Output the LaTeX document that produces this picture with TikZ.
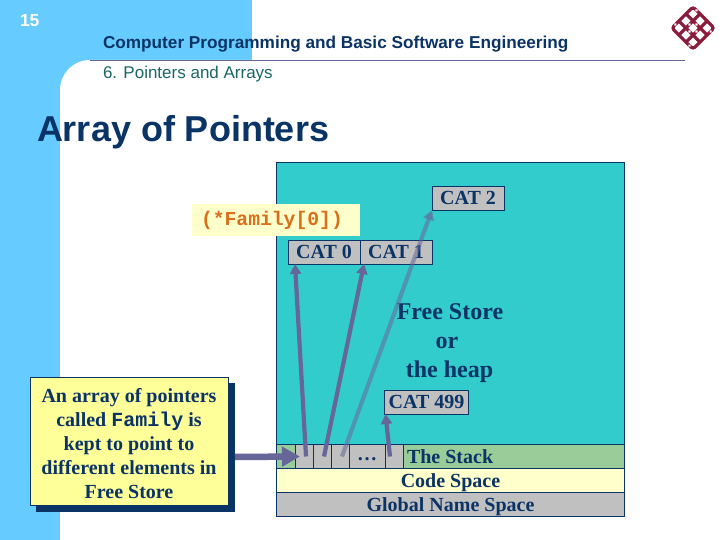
\documentclass[tikz,border=0pt]{standalone}
\usepackage{fontspec}
\setmainfont{Liberation Serif}
\setsansfont{Liberation Sans}
\setmonofont{Liberation Mono}
\usepackage{xcolor}
\usetikzlibrary{arrows.meta}
\definecolor{skyblue}{HTML}{66CCFF}
\definecolor{navytext}{HTML}{0A3366}
\definecolor{tealtext}{HTML}{1A6666}
\definecolor{heapteal}{HTML}{33CCCC}
\definecolor{stackgreen}{HTML}{99CC99}
\definecolor{paleyellow}{HTML}{FFFFCC}
\definecolor{notefill}{HTML}{FFFF99}
\definecolor{cellgrey}{HTML}{C0C0C0}
\definecolor{arrowpurple}{HTML}{666699}
\definecolor{codeorange}{HTML}{D96F1C}
\definecolor{logored}{HTML}{8A1C3C}
\tikzset{
    every node/.append style={inner sep=0pt, outer sep=0pt, text=navytext},
    catbox/.style={draw=navytext, fill=cellgrey, line width=0.8pt, minimum height=24pt, text height=13.5pt, text depth=0pt, font=\rmfamily\bfseries\fontsize{20}{22}\selectfont},
    cellbox/.style={draw=navytext, fill=cellgrey, line width=0.8pt, minimum height=24pt, text height=7pt, text depth=0pt, font=\rmfamily\bfseries\fontsize{20}{22}\selectfont},
    bandbox/.style={draw=navytext, line width=0.8pt, minimum width=348pt, minimum height=24pt, text height=13.5pt, text depth=0pt, font=\rmfamily\bfseries\fontsize{20}{22}\selectfont},
    heaptext/.style={anchor=base, font=\rmfamily\bfseries\fontsize{24}{26}\selectfont},
    notetext/.style={font=\rmfamily\bfseries\fontsize{20}{24}\selectfont},
    ptr/.style={draw=arrowpurple, line width=4.2pt, -{Triangle[length=10pt,width=11pt]}},
    knot/.style={draw=logored, line width=3.2pt, line cap=round, rounded corners=3pt}
}
\begin{document}
\begin{tikzpicture}[x=1pt, y=-1pt]
    \useasboundingbox (0,0) rectangle (720,540);
    % slide background
    \fill[skyblue] (0,0) rectangle (252,60);
    \fill[skyblue] (0,0) rectangle (60,540);
    \fill[skyblue] (60,60) rectangle (90,90);
    \fill[white, rounded corners=30pt] (60,620) -- (60,60) -- (420,60) -- (420,620) -- cycle;
    \draw[arrowpurple, line width=0.8pt] (90,60.5) -- (685,60.5);
    \node[anchor=base west, text=white, font=\sffamily\bfseries\fontsize{17.5}{18}\selectfont] (pagenum) at (20,27) {15};
    \node[anchor=base west, font=\sffamily\bfseries\fontsize{17.2}{20}\selectfont] (course) at (103,49) {Computer Programming and Basic Software Engineering};
    \node[anchor=base west, text=tealtext, font=\sffamily\fontsize{17}{18}\selectfont] (chapter) at (103,79) {6. Pointers and Arrays};
    \node[anchor=base west, font=\sffamily\bfseries\fontsize{36}{40}\selectfont] (heading) at (37,142) {Array of Pointers};
    % logo
    \begin{scope}[shift={(693,28)}, rotate=45]
        \draw[knot] (-15,-15) rectangle (15,15);
        \foreach \gridpos in {-5,5} {
            \draw[knot] (\gridpos,-15) -- (\gridpos,15);
            \draw[knot] (-15,\gridpos) -- (15,\gridpos);
        }
        \foreach \gapx/\gapy in {-10/-15, 15/-10, 10/15, -15/10, 0/-5, 5/0, 0/5, -5/0}
            \fill[white] (\gapx,\gapy) circle (1.5pt);
    \end{scope}
    % memory bands
    \fill[heapteal, draw=navytext, line width=0.8pt] (276.5,162.5) rectangle (624.5,445);
    \node[bandbox, fill=stackgreen, anchor=west] (stack) at (276.5,456.5) {};
    \node[anchor=base west, font=\rmfamily\bfseries\fontsize{20}{22}\selectfont] (stacklabel) at (407,463) {The Stack};
    \node[bandbox, fill=paleyellow, anchor=west] (code) at (276.5,480.5) {Code Space};
    \node[bandbox, fill=cellgrey, anchor=west] (global) at (276.5,504.5) {Global Name Space};
    % array cells
    \foreach \cellname/\cellx/\cellw/\celltext in {cella/304/18/, cellb/322/18/, cellc/340/18/, celld/367/36/\dots, celle/394/18/}
        \node[cellbox, minimum width=\cellw pt] (\cellname) at (\cellx,456.5) {\celltext};
    % objects on the heap
    \node[catbox, minimum width=72pt] (catzero) at (324,252) {CAT 0};
    \node[catbox, minimum width=72pt] (catone) at (396,252) {CAT 1};
    \node[catbox, minimum width=72pt] (cattwo) at (468,198) {CAT 2};
    \node[catbox, minimum width=84pt] (catlast) at (426.5,402) {CAT 499};
    \node[heaptext] (freestore) at (450,319) {Free Store};
    \node[heaptext] (orlabel) at (447,348) {or};
    \node[heaptext] (heaplabel) at (449.5,377) {the heap};
    \node[anchor=west, fill=paleyellow, text width=150pt, align=left, minimum height=32pt, text=codeorange, font=\ttfamily\bfseries\fontsize{19.7}{22}\selectfont, inner xsep=9pt] (deref) at (192,220) {(*Family[0])};
    % note
    \fill[navytext] (36,383) rectangle (235,512);
    \node[draw=navytext, fill=notefill, line width=0.8pt, minimum width=198pt, minimum height=128pt, anchor=north west] (note) at (30,377) {};
    \node[align=center, notetext] (notelabel) at (129,443.5) {An array of pointers\\called \texttt{Family} is\\kept to point to\\different elements in\\Free Store};
    % pointers
    \coordinate (notetip) at (235,457);
    \draw[ptr, line width=6.5pt, -{Triangle[length=18pt,width=19pt]}] (notetip) -- ([xshift=-4pt]cella.center);
    \draw[ptr] ([xshift=2pt]cella.center) -- ([xshift=7pt]catzero.south west);
    \draw[ptr] ([xshift=2pt]cellb.center) -- ([xshift=4pt]catone.south west);
    \draw[ptr, opacity=0.55] ([xshift=2pt]cellc.center) -- (cattwo.south west);
    \draw[ptr] ([xshift=-4pt]celle.center) -- ([xshift=1pt]catlast.south west);
\end{tikzpicture}
\end{document}
